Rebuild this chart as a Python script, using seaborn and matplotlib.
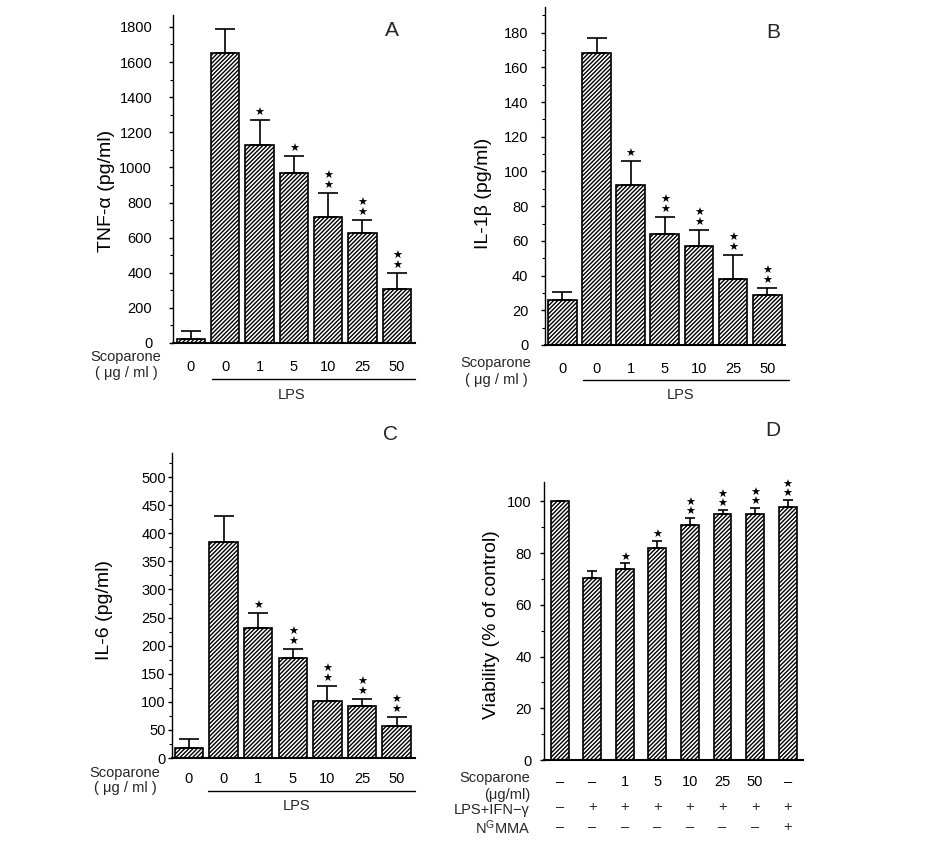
import numpy as np
import pandas as pd
import matplotlib
matplotlib.use("Agg")
import matplotlib.pyplot as plt
import matplotlib.transforms as mtransforms
from matplotlib.ticker import MultipleLocator
import seaborn as sns

sns.set_theme(style="ticks")
plt.rcParams["font.family"] = ["Liberation Sans", "DejaVu Sans"]
plt.rcParams["mathtext.fontset"] = "custom"
plt.rcParams["mathtext.rm"] = "Liberation Sans"
plt.rcParams["mathtext.it"] = "Liberation Sans:italic"
plt.rcParams["hatch.linewidth"] = 1.0
plt.rcParams["hatch.color"] = "black"

# ---------------- data ----------------
doses = ["0", "0", "1", "5", "10", "25", "50"]

tnf_mean = [25, 1650, 1130, 970, 715, 625, 305]
tnf_err = [45, 140, 140, 95, 140, 78, 95]
tnf_stars = [0, 0, 1, 1, 2, 2, 2]

il1b_mean = [26, 168.5, 92, 64, 57, 38, 29]
il1b_err = [4.5, 8.7, 14, 10, 9.5, 14, 4]
il1b_stars = [0, 0, 1, 2, 2, 2, 2]

il6_mean = [18, 385, 231, 178, 101, 93, 57]
il6_err = [16, 45, 27, 16, 27, 12, 16]
il6_stars = [0, 0, 1, 2, 2, 2, 2]

via_scop = ["–", "–", "1", "5", "10", "25", "50", "–"]
via_lps = ["–", "+", "+", "+", "+", "+", "+", "+"]
via_nmma = ["–", "–", "–", "–", "–", "–", "–", "+"]
via_mean = [100, 70.5, 74, 82, 91, 95, 95, 98]
via_err = [0, 2.6, 2.0, 2.6, 2.7, 1.7, 2.4, 2.6]
via_stars = [0, 0, 1, 1, 2, 2, 2, 2]

# ---------------- figure ----------------
W, H = 932, 859
fig = plt.figure(figsize=(W / 100, H / 100), dpi=100)


def make_ax(l, r, t, b):
    return fig.add_axes([l / W, 1 - b / H, (r - l) / W, (b - t) / H])


def off(ax, trans, dx, dy):
    return mtransforms.offset_copy(trans, fig=fig, x=dx, y=dy, units="dots")


def draw_panel(ax, means, errs, stars, width, ylim, major, minor, capsize,
               xlim, star_off, ylab, ylab_xy, ypad, labels=None, xpad=12):
    n = len(means)
    df = pd.DataFrame({"grp": list(range(n)), "val": means})
    sns.barplot(data=df, x="grp", y="val", color="white", saturation=1,
                edgecolor="black", linewidth=1.2, width=width, errorbar=None,
                ax=ax, zorder=2)
    for p in ax.patches:
        p.set_hatch("////////")
    x = np.arange(n)
    ax.errorbar(x, means, yerr=[np.zeros(n), errs], fmt="none", ecolor="black",
                elinewidth=1.2, capsize=capsize, capthick=1.2, zorder=3)
    for i in range(n):
        top = means[i] + errs[i]
        for k in range(stars[i]):
            ax.annotate("★", xy=(i, top), xytext=(0, star_off[k] * 0.72),
                        textcoords="offset points", ha="center", va="center",
                        fontsize=8, family="DejaVu Sans", color="black")
    ax.set_ylim(*ylim)
    ax.set_xlim(*xlim)
    ax.yaxis.set_major_locator(MultipleLocator(major))
    ax.yaxis.set_minor_locator(MultipleLocator(minor))
    ax.tick_params(axis="y", which="major", direction="out", length=3,
                   width=1, labelsize=10.5, pad=ypad, colors="black")
    ax.tick_params(axis="y", which="minor", direction="out", length=2,
                   width=0.8, colors="black")
    if labels is not None:
        ax.set_xticks(x)
        ax.set_xticklabels(labels)
        ax.tick_params(axis="x", length=0, labelsize=10.5, pad=xpad,
                       colors="black")
    else:
        ax.set_xticks([])
    ax.set_xlabel("")
    ax.set_ylabel(ylab, fontsize=14, color="black")
    ax.yaxis.set_label_coords(*ylab_xy)
    ax.yaxis.label.set_va("center")
    for s in ["top", "right"]:
        ax.spines[s].set_visible(False)
    ax.spines["left"].set_linewidth(1.0)
    ax.spines["bottom"].set_linewidth(1.5)
    ax.spines["left"].set_color("black")
    ax.spines["bottom"].set_color("black")
    ax.set_facecolor("white")


def lps_block(ax, x0, x1, line_dy, lps_x, lps_dy, sc_dx, sc_dy, mu_dy):
    tr = off(ax, ax.get_xaxis_transform(), 0, -line_dy)
    ax.plot([x0, x1], [0, 0], transform=tr, clip_on=False, color="black",
            lw=1.0)
    ax.text(lps_x, 0, "LPS", transform=off(ax, ax.get_xaxis_transform(), 0,
            -lps_dy), ha="center", va="center", fontsize=10.5)
    ax.text(0, 0, "Scoparone", transform=off(ax, ax.transAxes, sc_dx, -sc_dy),
            ha="center", va="center", fontsize=10.5)
    ax.text(0, 0, "( μg / ml )", transform=off(ax, ax.transAxes, sc_dx, -mu_dy),
            ha="center", va="center", fontsize=10.5)


# Panel A
axA = make_ax(173, 415, 15, 343)
draw_panel(axA, tnf_mean, tnf_err, tnf_stars, 0.82, (0, 1868), 200, 100, 7,
           (-0.52, 6.53), [7, 17], "TNF-α (pg/ml)", (-0.274, 0.463), 12,
           labels=doses, xpad=12)
lps_block(axA, 0.61, 6.53, 36, 2.94, 52, -47, 14, 30)

# Panel B
axB = make_ax(545, 785, 7, 345)
draw_panel(axB, il1b_mean, il1b_err, il1b_stars, 0.84, (0, 194.8), 20, 10, 7,
           (-0.51, 6.52), [7, 17], "IL-1β (pg/ml)", (-0.258, 0.45), 9,
           labels=doses, xpad=12)
lps_block(axB, 0.59, 6.64, 35, 3.46, 50, -49, 18, 35)

# Panel C
axC = make_ax(172, 415, 453, 758)
draw_panel(axC, il6_mean, il6_err, il6_stars, 0.82, (0, 543), 50, 25, 7,
           (-0.49, 6.53), [7, 17], "IL-6 (pg/ml)", (-0.276, 0.486), 1.5,
           labels=doses, xpad=10)
lps_block(axC, 0.55, 6.53, 33, 3.12, 48, -47, 15, 30)

# Panel D
axD = make_ax(544, 803, 482, 760)
draw_panel(axD, via_mean, via_err, via_stars, 0.55, (0, 107.5), 20, 10, 3.5,
           (-0.48, 7.47), [6, 15], "Viability (% of control)", (-0.202, 0.486),
           6, labels=via_scop, xpad=11)
xt = axD.get_xaxis_transform()
for i in range(len(via_lps)):
    axD.text(i, 0, via_lps[i], transform=off(axD, xt, 0, -47), ha="center",
             va="center", fontsize=10.5)
    axD.text(i, 0, via_nmma[i], transform=off(axD, xt, 0, -67), ha="center",
             va="center", fontsize=10.5)
row_labels = [("Scoparone", 18), ("(μg/ml)", 35), ("LPS+IFN−γ", 50),
              ("N$^{\\mathrm{G}}$MMA", 68)]
for txt, dy in row_labels:
    axD.text(0, 0, txt, transform=off(axD, axD.transAxes, -14, -dy),
             ha="right", va="center", fontsize=10.5)

# panel letters
for letter, px, py in [("A", 392, 30), ("B", 773, 32), ("C", 390, 435),
                       ("D", 773, 430)]:
    fig.text(px / W, 1 - py / H, letter, ha="center", va="center",
             fontsize=15)

fig.savefig("out.png", dpi=100, facecolor="white")
